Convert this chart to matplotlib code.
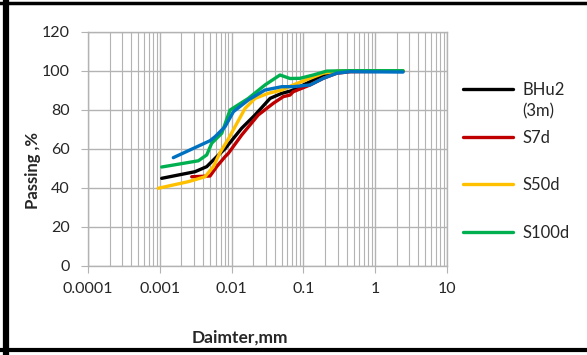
import matplotlib
matplotlib.use("Agg")
import matplotlib.pyplot as plt
from matplotlib.lines import Line2D
from matplotlib.ticker import FixedLocator, FixedFormatter, LogLocator, NullFormatter

plt.rcParams['font.family'] = ['Lato', 'DejaVu Sans']

# grain size curves (diameter in mm, percent passing)
bhu2_d = [0.00106, 0.00309, 0.0045, 0.0062, 0.0081, 0.0138, 0.0212, 0.0343, 0.050, 0.065, 0.072, 0.124, 0.189, 0.30, 0.45, 2.44]
bhu2_p = [44.8, 48.2, 50.8, 55.9, 60.0, 70.5, 77.3, 85.8, 88.4, 89.5, 90.1, 94.4, 97.8, 99.5, 99.8, 99.8]

s7_d = [0.00278, 0.0050, 0.0062, 0.0081, 0.0090, 0.0138, 0.0235, 0.0381, 0.0525, 0.065, 0.072, 0.124, 0.189, 0.291, 0.45, 2.44]
s7_p = [45.6, 46.0, 50.8, 55.9, 57.6, 67.0, 77.3, 83.3, 86.7, 87.5, 89.2, 92.7, 96.1, 98.7, 99.5, 99.8]

s50_d = [0.00095, 0.0025, 0.00426, 0.00556, 0.0069, 0.0090, 0.0154, 0.0212, 0.0324, 0.050, 0.072, 0.124, 0.189, 0.30, 2.44]
s50_p = [39.7, 43.1, 45.6, 50.8, 58.0, 65.0, 80.7, 85.8, 88.4, 90.1, 92.7, 96.1, 98.7, 99.8, 100.0]

s100_d = [0.00106, 0.00344, 0.0045, 0.00528, 0.00728, 0.0095, 0.0171, 0.0292, 0.0472, 0.065, 0.0897, 0.137, 0.211, 0.45, 2.44]
s100_p = [50.6, 53.8, 56.8, 62.8, 67.9, 79.8, 85.8, 92.7, 97.8, 96.0, 96.1, 97.8, 99.8, 100.0, 100.0]

extra_d = [0.00154, 0.0050, 0.0059, 0.0081, 0.0106, 0.0171, 0.0292, 0.050, 0.072, 0.124, 0.189, 0.291, 0.446, 2.44]
extra_p = [55.4, 64.1, 66.2, 71.3, 79.0, 85.0, 90.1, 91.8, 91.8, 92.7, 96.1, 98.7, 99.5, 99.3]

x_ticks = [0.0001, 0.001, 0.01, 0.1, 1, 10]
x_labels = ['0.0001', '0.001', '0.01', '0.1', '1', '10']
y_ticks = [0, 20, 40, 60, 80, 100, 120]

txt_col = '#262626'

fig = plt.figure(figsize=(5.87, 3.55), dpi=100)
ax = fig.add_axes([0.150, 0.2516, 0.6115, 0.6591])

lw = 2.4
style = dict(lw=lw, solid_joinstyle='round', solid_capstyle='round')
ax.plot(bhu2_d, bhu2_p, color='#000000', label='BHu2', **style)
ax.plot(s7_d, s7_p, color='#C00000', label='S7d', **style)
ax.plot(s50_d, s50_p, color='#FFC000', label='S50d', **style)
ax.plot(s100_d, s100_p, color='#00B050', label='S100d', **style)
ax.plot(extra_d, extra_p, color='#0070C0', **style)

ax.set_xscale('log')
ax.set_xlim(0.0001, 10)
ax.set_ylim(0, 120)

ax.xaxis.set_major_locator(FixedLocator(x_ticks))
ax.xaxis.set_major_formatter(FixedFormatter(x_labels))
ax.xaxis.set_minor_locator(LogLocator(base=10, subs=range(2, 10)))
ax.xaxis.set_minor_formatter(NullFormatter())
ax.set_yticks(y_ticks)

grid_col = '#b3b3b3'
ax.grid(True, which='major', color=grid_col, lw=1.0)
ax.grid(True, which='minor', axis='x', color=grid_col, lw=0.8)
ax.set_axisbelow(True)
for s in ax.spines.values():
    s.set_color(grid_col)
    s.set_linewidth(1.0)

ax.tick_params(axis='x', which='major', direction='out', length=5, color=grid_col, pad=7,
               labelsize=11.5, labelcolor=txt_col)
ax.tick_params(axis='x', which='minor', length=0)
ax.tick_params(axis='y', direction='out', length=5, color=grid_col, pad=8,
               labelsize=11.5, labelcolor=txt_col)

fig.text(0.057, 0.52, 'Passing ,%', rotation=90, ha='center', va='center',
         fontsize=12, fontweight='bold', color=txt_col)
fig.text(0.409, 0.048, 'Daimter,mm', ha='center', va='center',
         fontsize=12.5, fontweight='bold', color=txt_col)

leg = ax.legend(loc='upper left', bbox_to_anchor=(463 / 587, 1 - 82 / 355),
                bbox_transform=fig.transFigure, frameon=False, fontsize=12,
                handlelength=3.0, handletextpad=0.55, labelspacing=1.9,
                borderpad=0, borderaxespad=0, labelcolor=txt_col)
# second line of the first legend label
fig.text(522 / 587, 1 - 111 / 355, '(3m)', ha='left', va='center', fontsize=12, color=txt_col)

# outer frame
fig.add_artist(Line2D([0.011, 0.011], [0.005, 0.995], transform=fig.transFigure, color='black', lw=4.5))
fig.add_artist(Line2D([0.0, 1.0], [0.992, 0.992], transform=fig.transFigure, color='black', lw=2.5))
fig.add_artist(Line2D([0.0, 1.0], [0.013, 0.013], transform=fig.transFigure, color='black', lw=3.0))

fig.savefig('out.png', dpi=100)
